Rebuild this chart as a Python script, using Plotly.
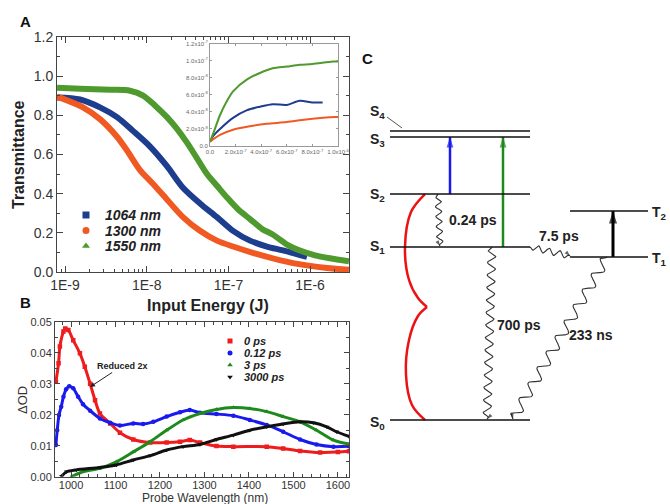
import numpy as np
import plotly.graph_objects as go

W, H = 670, 504
FONT = "Liberation Sans, Arial, sans-serif"

# ---------------- Panel A : transmittance vs input energy ----------------
a_1064_E = [8.0e-10, 1.53e-9, 2.68e-9, 4.33e-9, 6.79e-9, 1.10e-8, 1.77e-8, 2.78e-8,
            4.49e-8, 7.24e-8, 1.14e-7, 1.84e-7, 2.96e-7, 4.66e-7, 9.16e-7]
a_1064_T = [0.89, 0.88, 0.84, 0.79, 0.72, 0.64, 0.54, 0.43, 0.35, 0.28, 0.21, 0.16,
            0.13, 0.11, 0.077]
a_1300_E = [8.0e-10, 1.66e-9, 2.68e-9, 4.33e-9, 5.74e-9, 8.28e-9, 1.19e-8, 1.77e-8,
            2.78e-8, 4.49e-8, 7.24e-8, 1.14e-7, 2.44e-7, 6.18e-7, 1.61e-6, 2.99e-6]
a_1300_T = [0.895, 0.84, 0.78, 0.69, 0.62, 0.52, 0.45, 0.37, 0.28, 0.21, 0.16, 0.13,
            0.087, 0.045, 0.02, 0.012]
a_1550_E = [8.0e-10, 1.53e-9, 3.56e-9, 6.25e-9, 9.02e-9, 1.26e-8, 1.77e-8, 2.35e-8,
            3.11e-8, 4.13e-8, 5.47e-8, 7.24e-8, 9.61e-8, 1.31e-7, 1.84e-7, 2.58e-7,
            3.52e-7, 5.21e-7, 7.52e-7, 1.15e-6, 1.75e-6, 2.99e-6]
a_1550_T = [0.94, 0.935, 0.93, 0.925, 0.9, 0.85, 0.79, 0.73, 0.66, 0.58, 0.50, 0.44,
            0.38, 0.32, 0.27, 0.22, 0.19, 0.14, 0.11, 0.085, 0.07, 0.055]
a_names = ["1064 nm", "1300 nm", "1550 nm"]
a_colors = ["#1d3d8f", "#f05a22", "#4f9a2f"]
a_symbols = ["square", "circle", "triangle-up"]
a_xticks = [1e-9, 1e-8, 1e-7, 1e-6]
a_xticktext = ["1E-9", "1E-8", "1E-7", "1E-6"]

# ---------------- Inset : output vs input energy ----------------
in_1550_x = [0, 0.026e-6, 0.078e-6, 0.13e-6, 0.18e-6, 0.29e-6, 0.39e-6, 0.49e-6, 0.6e-6,
             0.7e-6, 0.8e-6, 0.96e-6, 1.0e-6]
in_1550_y = [0.05e-7, 0.15e-7, 0.36e-7, 0.52e-7, 0.64e-7, 0.78e-7, 0.855e-7, 0.91e-7,
             0.93e-7, 0.95e-7, 0.96e-7, 0.99e-7, 0.99e-7]
in_1064_x = [0, 0.026e-6, 0.078e-6, 0.18e-6, 0.29e-6, 0.39e-6, 0.49e-6, 0.6e-6, 0.7e-6,
             0.8e-6, 0.88e-6]
in_1064_y = [0.05e-7, 0.12e-7, 0.2e-7, 0.33e-7, 0.42e-7, 0.46e-7, 0.49e-7, 0.48e-7,
             0.53e-7, 0.51e-7, 0.51e-7]
in_1300_x = [0, 0.026e-6, 0.078e-6, 0.18e-6, 0.31e-6, 0.44e-6, 0.6e-6, 0.75e-6, 0.98e-6,
             1.0e-6]
in_1300_y = [0.05e-7, 0.08e-7, 0.13e-7, 0.19e-7, 0.23e-7, 0.26e-7, 0.28e-7, 0.31e-7,
             0.34e-7, 0.34e-7]
in_xticks = [0, 2e-7, 4e-7, 6e-7, 8e-7, 1e-6]
in_xticktext = ["0.0", "2.0x10<sup>-7</sup>", "4.0x10<sup>-7</sup>", "6.0x10<sup>-7</sup>",
                "8.0x10<sup>-7</sup>", "1.0x10<sup>-6</sup>"]
in_yticks = [0, 2e-8, 4e-8, 6e-8, 8e-8, 1e-7, 1.2e-7]
in_yticktext = ["0.0", "2.0x10<sup>-8</sup>", "4.0x10<sup>-8</sup>", "6.0x10<sup>-8</sup>",
                "8.0x10<sup>-8</sup>", "1.0x10<sup>-7</sup>", "1.2x10<sup>-7</sup>"]

# ---------------- Panel B : transient absorption ----------------
b_0_nm = [966, 972, 975, 983, 987, 994, 1005, 1020, 1031, 1043, 1054, 1065, 1088, 1110,
          1140, 1178, 1215, 1245, 1267, 1290, 1327, 1365, 1440, 1477, 1515, 1560, 1600, 1625]
b_0_od = [0.0306, 0.0366, 0.042, 0.0468, 0.0478, 0.0473, 0.044, 0.0398, 0.0355, 0.030,
          0.0247, 0.0204, 0.0172, 0.0142, 0.012, 0.011, 0.011, 0.0113, 0.0118, 0.011,
          0.0099, 0.0097, 0.0097, 0.0091, 0.0083, 0.0078, 0.008, 0.0082]
b_012_nm = [966, 969, 973, 978, 983, 989, 996, 1005, 1016, 1027, 1043, 1065, 1088, 1110,
            1140, 1162, 1185, 1215, 1245, 1267, 1290, 1327, 1365, 1402, 1440, 1477, 1515,
            1552, 1590, 1625]
b_012_od = [0.0102, 0.015, 0.0199, 0.0226, 0.0258, 0.0282, 0.0292, 0.0285, 0.0258, 0.0234,
            0.0213, 0.0188, 0.0174, 0.0165, 0.0172, 0.017, 0.0177, 0.0194, 0.0208, 0.0215,
            0.0206, 0.0202, 0.0197, 0.0183, 0.0167, 0.0145, 0.012, 0.0104, 0.0097, 0.0098]
b_3_nm = [1001, 1027, 1065, 1102, 1140, 1178, 1215, 1252, 1290, 1327, 1365, 1402, 1440,
          1477, 1515, 1552, 1590, 1625]
b_3_od = [0.0, 0.0016, 0.0027, 0.0048, 0.008, 0.0113, 0.015, 0.0183, 0.0204, 0.0217,
          0.0223, 0.022, 0.021, 0.0194, 0.0177, 0.015, 0.0118, 0.0105]
b_3000_nm = [979, 990, 1012, 1065, 1102, 1140, 1178, 1215, 1252, 1290, 1327, 1365, 1402,
             1440, 1477, 1515, 1545, 1575, 1597, 1625]
b_3000_od = [0.0002, 0.0016, 0.0022, 0.003, 0.0038, 0.0054, 0.0068, 0.0086, 0.0097, 0.0104,
             0.012, 0.0134, 0.015, 0.0161, 0.017, 0.0177, 0.0174, 0.0161, 0.0145, 0.013]
b_names = ["0 ps", "0.12 ps", "3 ps", "3000 ps"]
b_colors = ["#ee1c1c", "#1a1aee", "#1e8a1e", "#111111"]
b_symbols = ["square", "circle", "triangle-up", "triangle-down"]

# ---------------- Panel C : energy level diagram ----------------
lvl_names = ["S<sub>0</sub>", "S<sub>1</sub>", "S<sub>2</sub>", "S<sub>3</sub>", "S<sub>4</sub>"]
lvl_energy = [0.0, 1.0, 1.306, 1.636, 1.671]
trip_names = ["T<sub>1</sub>", "T<sub>2</sub>"]
trip_energy = [0.942, 1.208]
rate_labels = ["0.24 ps", "7.5 ps", "700 ps", "233 ns"]

fig = go.Figure()

def px(xp):
    return xp / W

def py(yp):
    return 1 - yp / H

# ---- Panel A traces
for E, T, c in zip([a_1064_E, a_1300_E, a_1550_E], [a_1064_T, a_1300_T, a_1550_T], a_colors):
    fig.add_trace(go.Scatter(x=E, y=T, mode="lines", line=dict(color=c, width=6, shape="spline", smoothing=0.8),
                             xaxis="x", yaxis="y", showlegend=False, hoverinfo="skip"))

# ---- Inset traces
for xx, yy, c in zip([in_1064_x, in_1300_x, in_1550_x], [in_1064_y, in_1300_y, in_1550_y], a_colors):
    fig.add_trace(go.Scatter(x=xx, y=yy, mode="lines", line=dict(color=c, width=2, shape="spline", smoothing=0.8),
                             xaxis="x3", yaxis="y3", showlegend=False, hoverinfo="skip"))

# ---- Panel B traces
for xx, yy, c, s in zip([b_0_nm, b_012_nm, b_3_nm, b_3000_nm], [b_0_od, b_012_od, b_3_od, b_3000_od],
                        b_colors, b_symbols):
    fig.add_trace(go.Scatter(x=xx, y=yy, mode="lines+markers",
                             line=dict(color=c, width=3, shape="spline", smoothing=0.8),
                             marker=dict(color=c, size=4.5, symbol=s),
                             xaxis="x2", yaxis="y2", showlegend=False, hoverinfo="skip"))

# ---- overlay pixel axis (x4/y4) for legends and the diagram
def ey(E):
    return 420 - 173 * E

# legends (keys)
for i, (c, s) in enumerate(zip(a_colors, a_symbols)):
    yk = 215 + 15.5 * i
    fig.add_trace(go.Scatter(x=[86], y=[yk], mode="markers", marker=dict(color=c, size=7, symbol=s),
                             xaxis="x4", yaxis="y4", showlegend=False, hoverinfo="skip"))
    fig.add_annotation(x=103, y=yk, xref="x4", yref="y4", text=a_names[i], showarrow=False,
                       xanchor="left", yanchor="middle",
                       font=dict(family=FONT, size=14, color="#222", weight="bold", style="italic"))
for i, (c, s) in enumerate(zip(b_colors, b_symbols)):
    yk = 341 + 12 * i
    fig.add_trace(go.Scatter(x=[230], y=[yk], mode="markers", marker=dict(color=c, size=5, symbol=s),
                             xaxis="x4", yaxis="y4", showlegend=False, hoverinfo="skip"))
    fig.add_annotation(x=242, y=yk, xref="x4", yref="y4", text=b_names[i], showarrow=False,
                       xanchor="left", yanchor="middle",
                       font=dict(family=FONT, size=11, color="#222", weight="bold", style="italic"))

# Reduced 2x annotation
fig.add_annotation(x=90, y=387, ax=122, ay=366, xref="x4", yref="y4", axref="x4", ayref="y4",
                   text="Reduced 2x", showarrow=True, arrowhead=2, arrowsize=1, arrowwidth=1,
                   arrowcolor="#222", font=dict(family=FONT, size=9, color="#222", weight="bold"))

# energy levels
shapes = []
for E in lvl_energy:
    shapes.append(dict(type="line", xref="x4", yref="y4", x0=390, x1=530, y0=ey(E), y1=ey(E),
                       line=dict(color="#111", width=1.5)))
for E in trip_energy:
    shapes.append(dict(type="line", xref="x4", yref="y4", x0=570, x1=648, y0=ey(E), y1=ey(E),
                       line=dict(color="#111", width=1.5)))
# S4 leader
shapes.append(dict(type="line", xref="x4", yref="y4", x0=387, x1=402, y0=117, y1=128,
                   line=dict(color="#555", width=1)))

lbl_y = [423, 247, 195, 140, 112]
for name, yy in zip(lvl_names, lbl_y):
    fig.add_annotation(x=377, y=yy, xref="x4", yref="y4", text=name, showarrow=False,
                       font=dict(family=FONT, size=14, color="#222", weight="bold"))
for name, E in zip(trip_names, trip_energy):
    fig.add_annotation(x=659, y=ey(E) + 2, xref="x4", yref="y4", text=name, showarrow=False,
                       font=dict(family=FONT, size=14, color="#222", weight="bold"))

# arrow helper: a line, plus a separate arrow-head marker whose tip sits on the end point
def add_arrow(xs, ys, color, width, head, head_color=None):
    fig.add_trace(go.Scatter(x=xs, y=ys, mode="lines", line=dict(color=color, width=width),
                             xaxis="x4", yaxis="y4", showlegend=False, hoverinfo="skip"))
    fig.add_trace(go.Scatter(x=xs[-2:], y=ys[-2:], mode="markers",
                             marker=dict(symbol="arrow", angleref="previous", color=head_color or color,
                                         size=[0, head], line=dict(width=0)),
                             xaxis="x4", yaxis="y4", showlegend=False, hoverinfo="skip"))

# vertical excitation arrows
add_arrow([450, 450], [ey(lvl_energy[2]), ey(lvl_energy[3])], "#1a1aee", 2.5, 11)
add_arrow([503, 503], [ey(lvl_energy[1]), ey(lvl_energy[3])], "#1e8a1e", 2.5, 11)
add_arrow([613, 613], [ey(trip_energy[0]), ey(trip_energy[1])], "#000000", 3, 13)

# red brace
brace_up_x = [425, 411, 405, 409, 418, 427]
brace_up_y = [ey(lvl_energy[2]), 212, 247, 280, 298, 307]
brace_lo_x = [427, 418, 409, 406, 412, 425]
brace_lo_y = [307, 316, 340, 375, 405, ey(lvl_energy[0])]
for bx, by in [(brace_up_x, brace_up_y), (brace_lo_x, brace_lo_y)]:
    fig.add_trace(go.Scatter(x=bx, y=by, mode="lines", line=dict(color="#ee1111", width=2.5, shape="spline"),
                             xaxis="x4", yaxis="y4", showlegend=False, hoverinfo="skip"))

# wavy relaxation arrows
def wavy(x0, y0, x1, y1, amp, wl):
    L = np.hypot(x1 - x0, y1 - y0)
    n = max(int(L * 1.5), 30)
    t = np.linspace(0, 1, n)
    dx, dy = (x1 - x0) / L, (y1 - y0) / L
    nx, ny = -dy, dx
    env = np.clip(np.minimum(t * L, (1 - t) * L) / 4.0, 0, 1)
    off = amp * np.sin(2 * np.pi * t * L / wl) * env
    xs = list(x0 + dx * t * L + nx * off)
    ys = list(y0 + dy * t * L + ny * off)
    add_arrow(xs, ys, "#333", 1.1, 6, "#222")

wavy(438, ey(lvl_energy[2]), 440, ey(lvl_energy[1]) - 1, 3, 10)
wavy(530, ey(lvl_energy[1]), 570, ey(trip_energy[0]) - 1, 3, 11)
wavy(492, ey(lvl_energy[1]), 487, ey(lvl_energy[0]) - 1, 4, 12.5)
wavy(607, ey(trip_energy[0]), 513, ey(lvl_energy[0]) - 1, 5, 18)

rate_pos = [(447, 220, "left"), (559, 236, "center"), (495, 325, "left"), (567, 335, "left")]
for txt, (xx, yy, an) in zip(rate_labels, rate_pos):
    fig.add_annotation(x=xx, y=yy, xref="x4", yref="y4", text=txt, showarrow=False, xanchor=an,
                       font=dict(family=FONT, size=14, color="#222", weight="bold"))

# panel letters
for txt, (xx, yy) in zip(["A", "B", "C"], [(25, 21), (25, 302), (367, 58)]):
    fig.add_annotation(x=xx, y=yy, xref="x4", yref="y4", text=txt, showarrow=False,
                       font=dict(family=FONT, size=15, color="#111", weight="bold"))

# axis titles
fig.add_annotation(x=18, y=155, xref="x4", yref="y4", text="Transmittance", textangle=-90, showarrow=False,
                   font=dict(family=FONT, size=16, color="#222", weight="bold"))
fig.add_annotation(x=208, y=305, xref="x4", yref="y4", text="Input Energy (J)", showarrow=False,
                   font=dict(family=FONT, size=16, color="#222", weight="bold"))
fig.add_annotation(x=22, y=400, xref="x4", yref="y4", text="ΔOD", textangle=-90, showarrow=False,
                   font=dict(family=FONT, size=13, color="#333"))
fig.add_annotation(x=205, y=497.5, xref="x4", yref="y4", text="Probe Wavelength (nm)", showarrow=False,
                   font=dict(family=FONT, size=12, color="#333"))

fig.update_layout(shapes=shapes)

axcommon = dict(showline=True, linecolor="#444", linewidth=1, mirror="ticks", ticks="inside",
                tickcolor="#444", showgrid=False, zeroline=False, automargin=False,
                tickfont=dict(family=FONT, color="#333"))

a_minor = [k * 10.0 ** d for d in range(-10, -5) for k in range(2, 10)]
fig.update_layout(
    template="none",
    width=W, height=H, margin=dict(l=0, r=0, t=0, b=0, pad=0, autoexpand=False),
    paper_bgcolor="white", plot_bgcolor="rgba(0,0,0,0)", showlegend=False,
    xaxis=dict(**axcommon, type="log", domain=[px(57), px(349)], range=[-9.098, -5.524],
               anchor="y", tickvals=a_xticks, ticktext=a_xticktext, ticklen=6,
               minor=dict(tickvals=a_minor, ticklen=3, ticks="inside", tickcolor="#444")),
    yaxis=dict(**axcommon, domain=[py(272), py(36.8)], range=[0, 1.2], anchor="x", dtick=0.2,
               tickformat=".1f", ticklen=6, minor=dict(dtick=0.1, ticklen=3, ticks="inside", tickcolor="#444")),
    xaxis2=dict(**axcommon, domain=[px(55), px(349)], range=[964, 1625], anchor="y2", dtick=100,
                ticklen=5, ticklabelstandoff=-2,
                minor=dict(dtick=20, ticklen=3, ticks="inside", tickcolor="#444")),
    yaxis2=dict(**axcommon, domain=[py(476.7), py(321.7)], range=[0, 0.05], anchor="x2", dtick=0.01,
                tickformat=".2f", ticklen=5, minor=dict(dtick=0.005, ticklen=3, ticks="inside", tickcolor="#444")),
    xaxis3=dict(showline=True, linecolor="#999", linewidth=1, mirror="ticks", ticks="inside", tickcolor="#999",
                ticklen=2, showgrid=False, zeroline=False, automargin=False, domain=[px(210), px(338)],
                range=[0, 1.0e-6], anchor="y3", tickvals=in_xticks, ticktext=in_xticktext,
                tickfont=dict(family=FONT, size=6, color="#666")),
    yaxis3=dict(showline=True, linecolor="#999", linewidth=1, mirror="ticks", ticks="inside", tickcolor="#999",
                ticklen=2, showgrid=False, zeroline=False, automargin=False, domain=[py(146), py(43.5)],
                range=[0, 1.2e-7], anchor="x3", tickvals=in_yticks, ticktext=in_yticktext,
                tickfont=dict(family=FONT, size=6, color="#666")),
    xaxis4=dict(domain=[0, 1], range=[0, W], visible=False, anchor="y4", fixedrange=True, automargin=False),
    yaxis4=dict(domain=[0, 1], range=[H, 0], visible=False, anchor="x4", fixedrange=True, automargin=False),
)
fig.update_xaxes(tickfont_size=14, selector=dict(anchor="y"))
fig.update_yaxes(tickfont_size=14, selector=dict(anchor="x"))
fig.update_xaxes(tickfont_size=11, selector=dict(anchor="y2"))
fig.update_yaxes(tickfont_size=11, selector=dict(anchor="x2"))

# remove the page's default 8 px body margin so the figure sits at the window origin
fig.write_html("out.html", config={"displayModeBar": False},
               post_script="document.body.style.margin='0px';")
